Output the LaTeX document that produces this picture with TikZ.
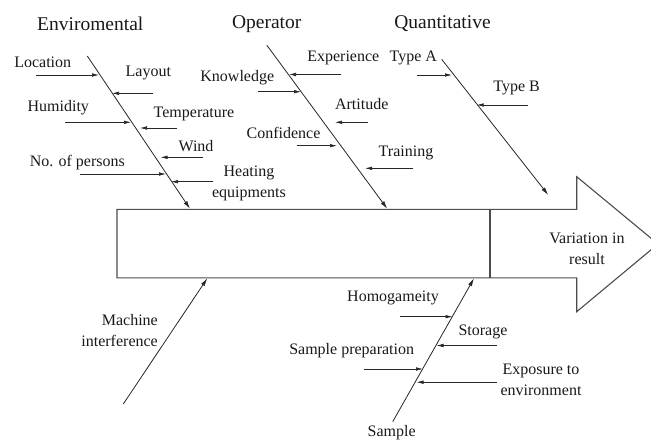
\documentclass[tikz,border=0pt]{standalone}
\usepackage{fontspec}
\setmainfont{Liberation Serif}
\usetikzlibrary{arrows.meta}
\begin{document}
\begin{tikzpicture}[x=1pt,y=-1pt,
  lbl/.style={font=\fontsize{16}{21}\selectfont, inner sep=0pt, align=center, text=black!90},
  ttl/.style={font=\fontsize{19.5}{22}\selectfont, inner sep=0pt, text=black!90},
  cause/.style={-{Latex[length=7pt,width=3.6pt]}, line width=0.7pt, draw=black!85},
  spine/.style={-{Latex[length=8pt,width=4.2pt]}, line width=0.8pt, draw=black!85},
  outline/.style={line width=1.1pt, draw=black!70, line join=miter}]
\useasboundingbox (0,0) rectangle (651,440);

% main body and head
\draw[outline] (117,209.3) -- (576.7,209.3) -- (576.7,176.7) -- (658,244) -- (576.7,311.7) -- (576.7,277.8) -- (117,277.8) -- cycle;
\draw[outline] (490,209.3) -- (490,277.8);
\node[lbl] (res) at (587,248.5) {Variation in\\result};

% titles
\node[ttl] (tEnv) at (90.3,24) {Enviromental};
\node[ttl] (tOp) at (266.7,24) {Operator};
\node[ttl] (tQu) at (442.5,24) {Quantitative};

% spines
\coordinate (e0) at (87.3,56);   \coordinate (e1) at (190,208.8);
\coordinate (o0) at (266.7,45);  \coordinate (o1) at (387.3,208.8);
\coordinate (q0) at (441.7,59.3); \coordinate (q1) at (548.3,195);
\coordinate (m0) at (123.3,404); \coordinate (m1) at (207.3,278.3);
\coordinate (s0) at (392.7,421.7); \coordinate (s1) at (474,278.3);
\draw[spine] (e0) -- (e1);
\draw[spine] (o0) -- (o1);
\draw[spine] (q0) -- (q1);
\draw[spine] (m0) -- (m1);
\draw[spine] (s0) -- (s1);

% Environmental causes
\node[lbl] (loc) at (42.7,62.7) {Location};
\coordinate (loc0) at (36,75); \coordinate (loc1) at (99,75);
\draw[cause] (loc0) -- (loc1);
\node[lbl] (lay) at (148.3,73) {Layout};
\coordinate (lay0) at (153.3,93.3); \coordinate (lay1) at (112,93.3);
\draw[cause] (lay0) -- (lay1);
\node[lbl] (hum) at (58.3,107.3) {Humidity};
\coordinate (hum0) at (65,122.3); \coordinate (hum1) at (131,122.3);
\draw[cause] (hum0) -- (hum1);
\node[lbl] (tem) at (194,114.3) {Temperature};
\coordinate (tem0) at (176.7,128); \coordinate (tem1) at (140,128);
\draw[cause] (tem0) -- (tem1);
\node[lbl] (win) at (196,145.7) {Wind};
\coordinate (win0) at (203.3,157.3); \coordinate (win1) at (160.5,157.3);
\draw[cause] (win0) -- (win1);
\node[lbl] (nop) at (77.3,162.3) {No. of persons};
\coordinate (nop0) at (80,174); \coordinate (nop1) at (166,174);
\draw[cause] (nop0) -- (nop1);
\node[lbl] (hea) at (249,183) {Heating\\equipments};
\coordinate (hea0) at (213.3,181.7); \coordinate (hea1) at (171,181.7);
\draw[cause] (hea0) -- (hea1);

% Operator causes
\node[lbl] (exp) at (343.3,58.3) {Experience};
\coordinate (exp0) at (340.7,74.5); \coordinate (exp1) at (289,74.5);
\draw[cause] (exp0) -- (exp1);
\node[lbl] (kno) at (237.3,77.3) {Knowledge};
\coordinate (kno0) at (258.3,91.7); \coordinate (kno1) at (301,91.7);
\draw[cause] (kno0) -- (kno1);
\node[lbl] (art) at (361.7,104) {Artitude};
\coordinate (art0) at (368.3,122.3); \coordinate (art1) at (335,122.3);
\draw[cause] (art0) -- (art1);
\node[lbl] (con) at (283.5,132.5) {Confidence};
\coordinate (con0) at (296.7,145.7); \coordinate (con1) at (337,145.7);
\draw[cause] (con0) -- (con1);
\node[lbl] (tra) at (406,153.3) {Training};
\coordinate (tra0) at (413.3,168.3); \coordinate (tra1) at (365,168.3);
\draw[cause] (tra0) -- (tra1);

% Quantitative causes
\node[lbl] (tya) at (413.3,58.3) {Type A};
\coordinate (tya0) at (416.7,75); \coordinate (tya1) at (452,75);
\draw[cause] (tya0) -- (tya1);
\node[lbl] (tyb) at (516.7,88.3) {Type B};
\coordinate (tyb0) at (528.3,105); \coordinate (tyb1) at (476.7,105);
\draw[cause] (tyb0) -- (tyb1);

% Machine
\node[lbl, align=right, anchor=east] (mac) at (158,330.5) {Machine\\interference};

% Sample causes
\node[lbl] (sam) at (391.7,433) {Sample};
\node[lbl] (hom) at (393,298) {Homogameity};
\coordinate (hom0) at (400,316.7); \coordinate (hom1) at (452.5,316.7);
\draw[cause] (hom0) -- (hom1);
\node[lbl] (sto) at (483,331.5) {Storage};
\coordinate (sto0) at (496.7,345.5); \coordinate (sto1) at (436.5,345.5);
\draw[cause] (sto0) -- (sto1);
\node[lbl] (spr) at (351.7,350.5) {Sample preparation};
\coordinate (spr0) at (364,369); \coordinate (spr1) at (423,369);
\draw[cause] (spr0) -- (spr1);
\node[lbl] (exo) at (541,379.7) {Exposure to\\environment};
\coordinate (exo0) at (496.7,382.2); \coordinate (exo1) at (416.5,382.2);
\draw[cause] (exo0) -- (exo1);
\end{tikzpicture}
\end{document}
